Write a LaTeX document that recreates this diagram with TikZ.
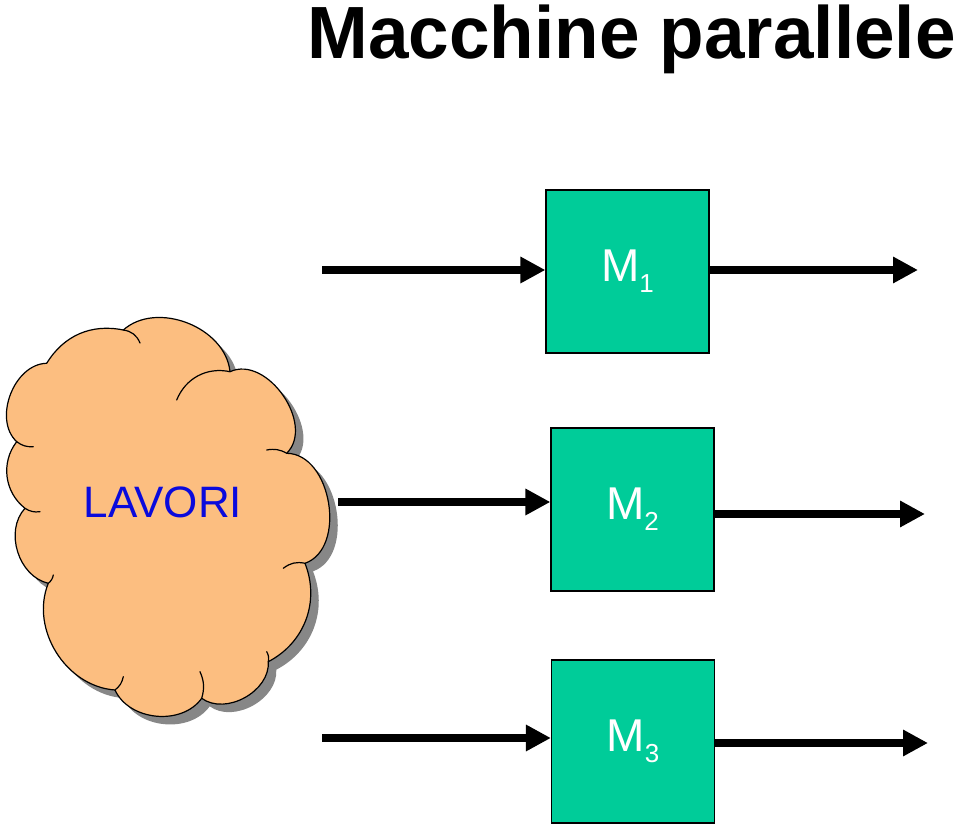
\documentclass[tikz,border=0pt]{standalone}
\usepackage{fontspec}
\setmainfont{Liberation Sans}
\usetikzlibrary{arrows.meta}
\definecolor{cloudfill}{RGB}{252,190,128}
\definecolor{boxfill}{RGB}{0,204,153}
\definecolor{lavblue}{RGB}{10,10,220}
\definecolor{shadowgray}{RGB}{135,135,135}
\newcommand\mycloudshape[1]{%
  \path[#1] (46.7,461.7) to[bend left=35] (123.3,495)
    to[bend left=63] (230,453.3)
    to[bend left=80, looseness=1.05] (286.7,371.7)
    to[bend left=80, looseness=1.03] (305,261.7)
    to[bend left=42] (268.3,163.3)
    to[bend left=65] (201.7,126.7)
    to[bend left=60] (115,135)
    to[bend left=54] (48.3,241.7)
    to[bend left=60] (25,316.7)
    to[bend left=45] (16.7,383.3)
    to[bend left=68] (46.7,461.7) -- cycle;}
\begin{document}
\begin{tikzpicture}[x=1pt,y=1pt,
  machine/.style={draw=black, line width=1.2pt, fill=boxfill,
    minimum width=163pt, minimum height=163pt, inner sep=0pt,
    text=white, font=\fontsize{46}{46}\selectfont},
  flow/.style={line width=8.5pt, -{Triangle[length=25pt,width=25pt]}},
  cloudline/.style={line width=1.2pt, line join=round, line cap=round}]
\useasboundingbox (0,0) rectangle (959,825);

% title
\node[anchor=base east, inner sep=0pt, font=\bfseries\fontsize{74}{74}\selectfont] (title) at (956,766) {\scalebox{0.985}[1]{Macchine parallele}};

% cloud with shadow
\mycloudshape{fill=shadowgray, shift={(8,-8)}}
\mycloudshape{fill=cloudfill, draw=black, cloudline}
\draw[cloudline] (123.3,495) to[bend left=30] (140,482);
\draw[cloudline] (176.7,425) to[bend left=40] (230,453.3);
\draw[cloudline] (266.7,375) to[bend left=20] (286.7,371.7);
\draw[cloudline] (283.3,256.7) to[bend left=25] (305,261.7);
\draw[cloudline] (266.7,173.3) to[bend left=20] (268.3,163.3);
\draw[cloudline] (200,153.3) to[bend left=20] (201.7,126.7);
\draw[cloudline] (123.3,148.3) to[bend left=20] (115,135);
\draw[cloudline] (53.3,250) to[bend left=20] (48.3,241.7);
\draw[cloudline] (40,313.3) to[bend left=20] (25,316.7);
\draw[cloudline] (33.3,378.3) to[bend left=20] (16.7,383.3);
\node[text=lavblue, font=\fontsize{44}{44}\selectfont, inner sep=0pt] (cloud) at (163,323) {LAVORI};

% machines
\node[machine] (M1) at (627.5,553.5) {M\raisebox{-11pt}{\fontsize{26}{26}\selectfont 1}};
\node[machine] (M2) at (632.5,315.5) {M\raisebox{-11pt}{\fontsize{26}{26}\selectfont 2}};
\node[machine] (M3) at (633,83.5) {M\raisebox{-11pt}{\fontsize{26}{26}\selectfont 3}};

% arrow ends
\coordinate (in1) at (322,555);
\coordinate (in2) at (338,323);
\coordinate (in3) at (322,87);
\coordinate (out1) at (918,555);
\coordinate (out2) at (925,311);
\coordinate (out3) at (928,82);

\draw[flow] (in1) -- (M1.west |- in1);
\draw[flow] (in2) -- (M2.west |- in2);
\draw[flow] (in3) -- (M3.west |- in3);
\draw[flow] (M1.east |- out1) -- (out1);
\draw[flow] (M2.east |- out2) -- (out2);
\draw[flow] (M3.east |- out3) -- (out3);
\end{tikzpicture}
\end{document}
